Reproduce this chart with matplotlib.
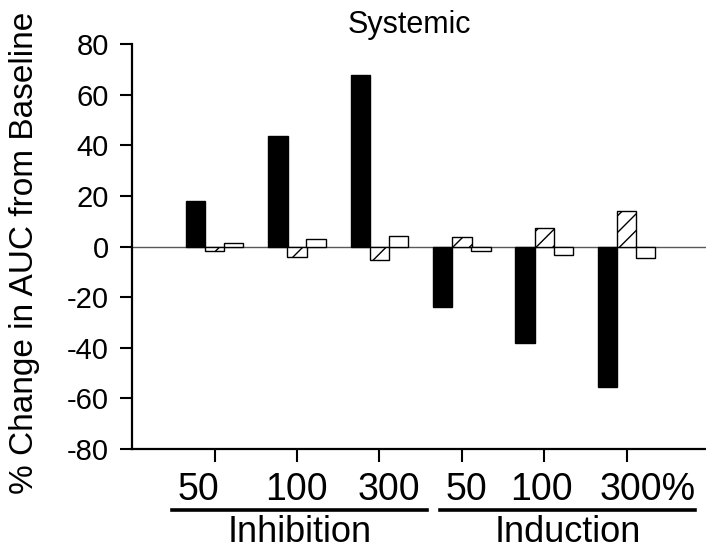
import matplotlib
matplotlib.use("Agg")
import matplotlib.pyplot as plt
import numpy as np

plt.rcParams['font.family'] = ['Liberation Sans', 'DejaVu Sans']
plt.rcParams['hatch.linewidth'] = 1.0

# % change in AUC from baseline, per scenario (inhibition 50/100/300, induction 50/100/300%)
scenarios = ["50", "100", "300", "50", "100", "300%"]
systemic_solid = [18.2, 43.7, 67.9, -23.7, -38.2, -55.5]
systemic_hatched = [-1.8, -4.1, -5.3, 3.7, 7.4, 14.1]
systemic_open = [1.3, 3.0, 4.3, -1.8, -3.2, -4.6]
groups = ["Inhibition", "Induction"]
yticks = [-80, -60, -40, -20, 0, 20, 40, 60, 80]

fig = plt.figure(figsize=(7.06, 5.53), dpi=100)
ax = fig.add_axes([132.3 / 706, 1 - 449 / 553, 1 - 132.3 / 706, (449 - 44.3) / 553])

x = np.arange(len(scenarios))
w = 0.235
off = 0.232
ax.bar(x - off, systemic_solid, w, color="black", edgecolor="black", linewidth=1, zorder=3)
ax.bar(x, systemic_hatched, w, color="white", edgecolor="black", hatch="//", linewidth=1, zorder=3)
ax.bar(x + off, systemic_open, w, color="white", edgecolor="black", linewidth=1, zorder=3)
ax.axhline(0, color="0.35", linewidth=1, zorder=2)

ax.set_xlim(-1.0, 5.964)
ax.set_ylim(-80, 80)
ax.set_yticks(yticks)
ax.set_yticklabels([str(v) for v in yticks], fontsize=21)
ax.set_xticks(x)
ax.set_xticklabels([])
for s in ("top", "right"):
    ax.spines[s].set_visible(False)
for s in ("left", "bottom"):
    ax.spines[s].set_linewidth(1.6)
ax.tick_params(axis="both", direction="out", length=9, width=1.5, pad=8)

# scenario labels beneath the ticks
label_x = [-0.20, 0.99, 2.12, 3.06, 3.97, 5.25]
trans = ax.get_xaxis_transform()
for lx, lab in zip(label_x, scenarios):
    ax.text(lx, -0.126, lab, transform=trans, ha="center", va="baseline",
            fontsize=27, clip_on=False)

# group underlines and names
spans = [(171.7, 426.7), (440.0, 695.0)]
for (x0, x1), name in zip(spans, groups):
    fig.add_artist(plt.Line2D([x0 / 706, x1 / 706], [1 - 510 / 553] * 2,
                              color="black", linewidth=2.6))
    fig.text((x0 + x1) / 2 / 706 + 0.001, 1 - 541.5 / 553, name, ha="center",
             va="baseline", fontsize=26)

fig.text(409 / 706, 1 - 33 / 553, "Systemic", ha="center", va="baseline", fontsize=22)
fig.text(25 / 706, 1 - 253 / 553, "% Change in AUC from Baseline", rotation=90,
         ha="center", va="center", fontsize=24)

fig.savefig("out.png", dpi=100)
